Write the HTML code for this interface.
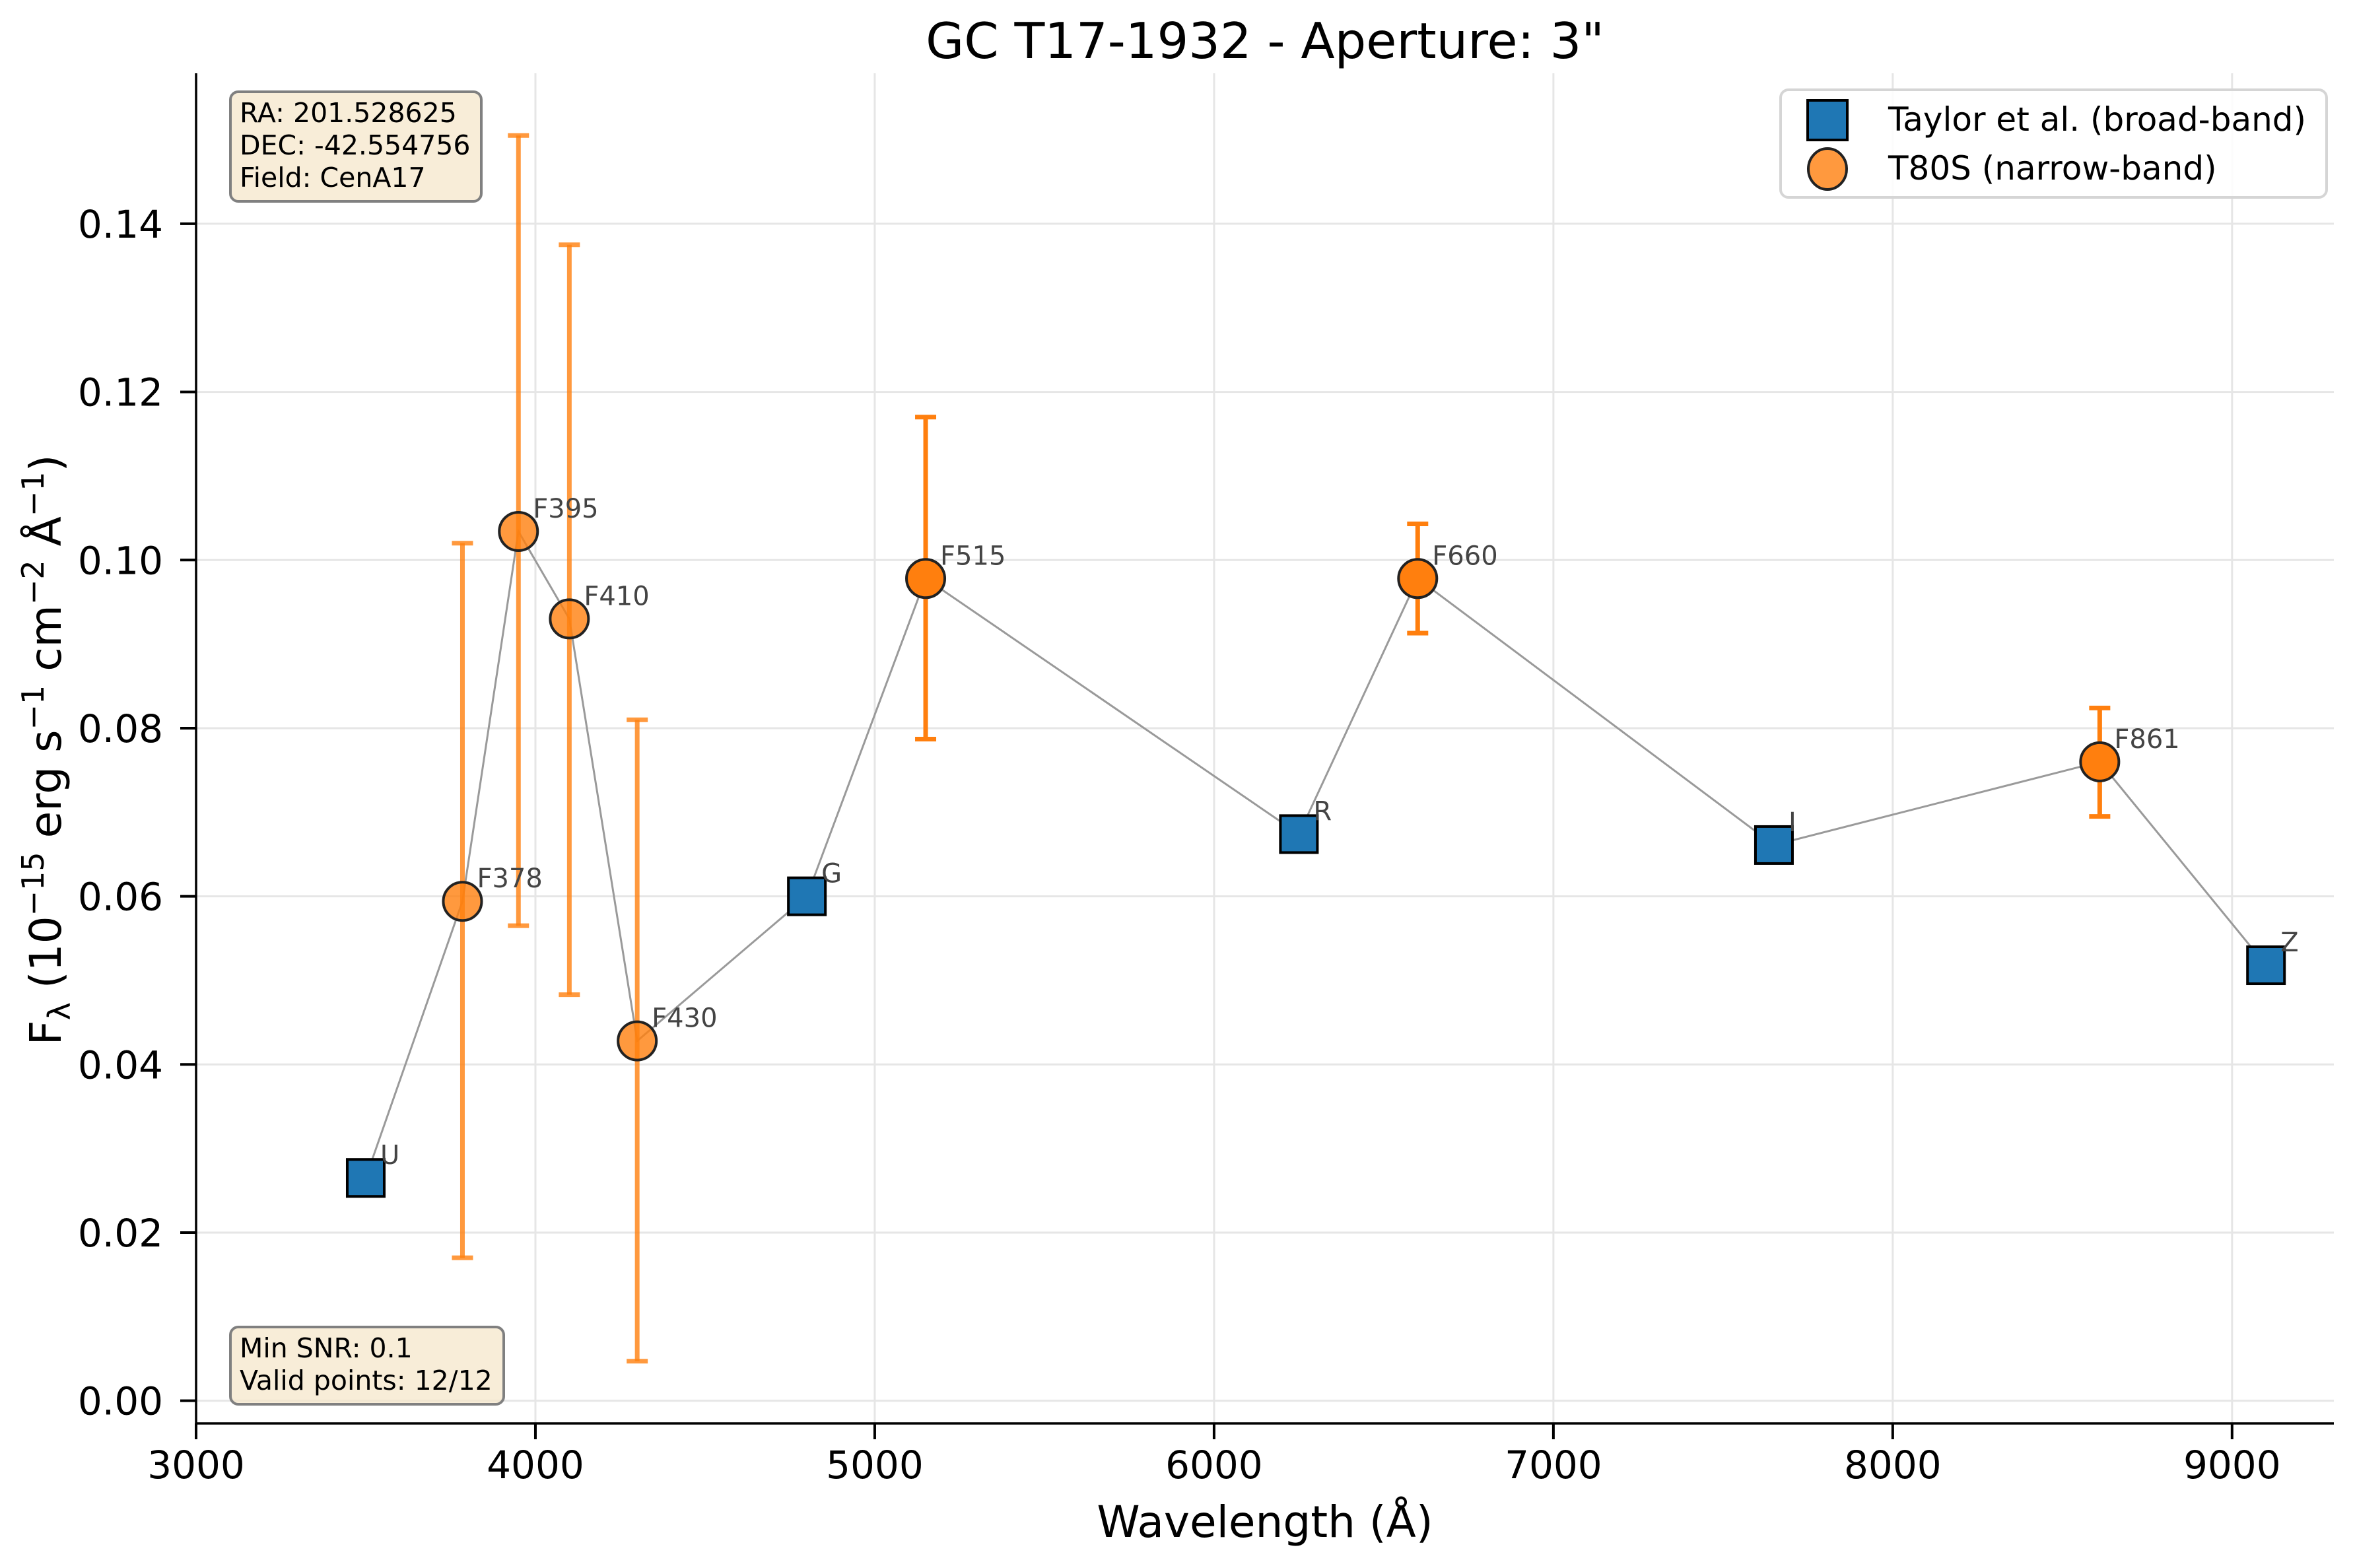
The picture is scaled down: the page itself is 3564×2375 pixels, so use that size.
<!DOCTYPE html>
<html><head><meta charset="utf-8"><style>
html,body{margin:0;padding:0;background:#fff}
svg{display:block}
text{font-family:"DejaVu Sans","Liberation Sans",sans-serif}
</style></head><body>
<svg id="chart" width="3564" height="2375" viewBox="0 0 3564 2375" xmlns="http://www.w3.org/2000/svg">
<rect width="3564" height="2375" fill="#fff"/>
<g id="grid"></g>
<g id="line"></g>
<g id="marks"></g>
<g id="axes"></g>
<text x="1916" y="88" font-size="75" text-anchor="middle">GC T17-1932 - Aperture: 3"</text>
<text x="1916" y="2328" font-size="66" text-anchor="middle">Wavelength (Å)</text>
<text transform="translate(92,1136) rotate(-90)" font-size="66" text-anchor="middle">F<tspan font-size="46" dy="14">λ</tspan><tspan dy="-14"> (10</tspan><tspan font-size="46" dy="-26">−15</tspan><tspan dy="26"> erg s</tspan><tspan font-size="46" dy="-26">−1</tspan><tspan dy="26"> cm</tspan><tspan font-size="46" dy="-26">−2</tspan><tspan dy="26"> Å</tspan><tspan font-size="46" dy="-26">−1</tspan><tspan dy="26">)</tspan></text>
<g>
<rect x="349" y="139" width="380" height="166" rx="12" fill="#f5e6c8" fill-opacity="0.7" stroke="#808080" stroke-width="4"/>
<text x="363" y="185" font-size="41">RA: 201.528625</text>
<text x="363" y="234" font-size="41">DEC: -42.554756</text>
<text x="363" y="283" font-size="41">Field: CenA17</text>
</g>
<g>
<rect x="349" y="2010" width="414" height="117" rx="12" fill="#f5e6c8" fill-opacity="0.7" stroke="#808080" stroke-width="4"/>
<text x="363" y="2056" font-size="41">Min SNR: 0.1</text>
<text x="363" y="2105" font-size="41">Valid points: 12/12</text>
</g>
<g>
<rect x="2697" y="136" width="827" height="163" rx="12" fill="#fff" fill-opacity="0.85" stroke="#d5d5d5" stroke-width="4"/>
<rect x="2738" y="152" width="60" height="60" fill="#1f77b4" stroke="#000" stroke-width="4"/>
<text x="2860" y="198" font-size="50">Taylor et al. (broad-band)</text>
<ellipse cx="2768" cy="256" rx="29" ry="31" fill="#ff7f0e" fill-opacity="0.8" stroke="#222" stroke-width="4"/>
<text x="2860" y="272" font-size="50">T80S (narrow-band)</text>
</g>
</svg>
<script>
const bandNames = ["U","F378","F395","F410","F430","G","F515","R","F660","I","F861","Z"];
const wavelengths = [3500,3785,3950,4100,4300,4800,5150,6250,6600,7650,8610,9100];
const fluxes = [0.0265,0.0594,0.1034,0.0930,0.0428,0.0600,0.0978,0.0674,0.0978,0.0661,0.0760,0.0518];
const errLow = [null,0.0170,0.0565,0.0483,0.0047,null,0.0787,null,0.0913,null,0.0695,null];
const errHigh = [null,0.1020,0.1505,0.1375,0.0810,null,0.1170,null,0.1043,null,0.0824,null];
const isBroad = [true,false,false,false,false,true,false,true,false,true,false,true];
const faded = [false,true,true,true,true,false,false,false,false,false,false,false];
const xTicks = [3000,4000,5000,6000,7000,8000,9000];
const yTicks = [0.00,0.02,0.04,0.06,0.08,0.10,0.12,0.14];

const L=297,R=3535,T=111,B=2156;
const X0=3000,X1=9300,Y0=-0.0027,Y1=0.1579;
function sx(v){return L+(v-X0)/(X1-X0)*(R-L);}
function sy(v){return B-(v-Y0)/(Y1-Y0)*(B-T);}
const NS="http://www.w3.org/2000/svg";
function mk(tag,attrs,parent){const e=document.createElementNS(NS,tag);for(const k in attrs)e.setAttribute(k,attrs[k]);parent.appendChild(e);return e;}
const grid=document.getElementById('grid'),axes=document.getElementById('axes'),lineG=document.getElementById('line'),marks=document.getElementById('marks');

xTicks.forEach(t=>{
  const g=mk('line',{x1:sx(t),x2:sx(t),y1:T,y2:B,stroke:'#e6e6e6','stroke-width':3},grid);
  
  
  const tk=mk('line',{x1:sx(t),x2:sx(t),y1:B,y2:B+24,stroke:'#000','stroke-width':4},axes);
  
  
  const lb=mk('text',{x:sx(t),y:2239,'font-size':58,'text-anchor':'middle'},axes);
  lb.textContent=String(t);
  
  
});
yTicks.forEach(t=>{
  const g=mk('line',{x1:L,x2:R,y1:sy(t),y2:sy(t),stroke:'#e6e6e6','stroke-width':3},grid);
  
  
  const tk=mk('line',{x1:L-24,x2:L,y1:sy(t),y2:sy(t),stroke:'#000','stroke-width':4},axes);
  
  
  const lb=mk('text',{x:247,y:sy(t)+21,'font-size':58,'text-anchor':'end'},axes);
  lb.textContent=t.toFixed(2);
  
  
});
const sp1=mk('line',{x1:L,x2:L,y1:T,y2:B,stroke:'#000','stroke-width':3.5},axes);


const sp2=mk('line',{x1:L,x2:R,y1:B,y2:B,stroke:'#000','stroke-width':3.5},axes);



const pts=wavelengths.map((w,i)=>sx(w)+','+sy(fluxes[i])).join(' ');
const pl=mk('polyline',{points:pts,fill:'none',stroke:'#9a9a9a','stroke-width':3},lineG);



wavelengths.forEach((w,i)=>{
  const cx=sx(w);
  if(errLow[i]!==null){
    const op=faded[i]?0.8:1;
    const eg=mk('g',{stroke:'#ff7f0e','stroke-opacity':op,'stroke-width':7},marks);
    
    
    mk('line',{x1:cx,x2:cx,y1:sy(errLow[i]),y2:sy(errHigh[i])},eg);
    mk('line',{x1:cx-16,x2:cx+16,y1:sy(errLow[i]),y2:sy(errLow[i])},eg);
    mk('line',{x1:cx-16,x2:cx+16,y1:sy(errHigh[i]),y2:sy(errHigh[i])},eg);
  }
});
wavelengths.forEach((w,i)=>{
  const cx=sx(w),cy=sy(fluxes[i]);
  let m;
  if(isBroad[i]){
    m=mk('rect',{x:cx-28,y:cy-28,width:56,height:56,fill:'#1f77b4',stroke:'#000','stroke-width':4},marks);
  }else{
    m=mk('circle',{cx:cx,cy:cy,r:29,fill:'#ff7f0e','fill-opacity':faded[i]?0.8:1,stroke:'#222','stroke-width':4},marks);
  }
  
  
  const t=mk('text',{x:cx+22,y:cy-21,'font-size':40,fill:'#444'},marks);
  t.textContent=bandNames[i];
  
  
});
</script>
</body></html>
